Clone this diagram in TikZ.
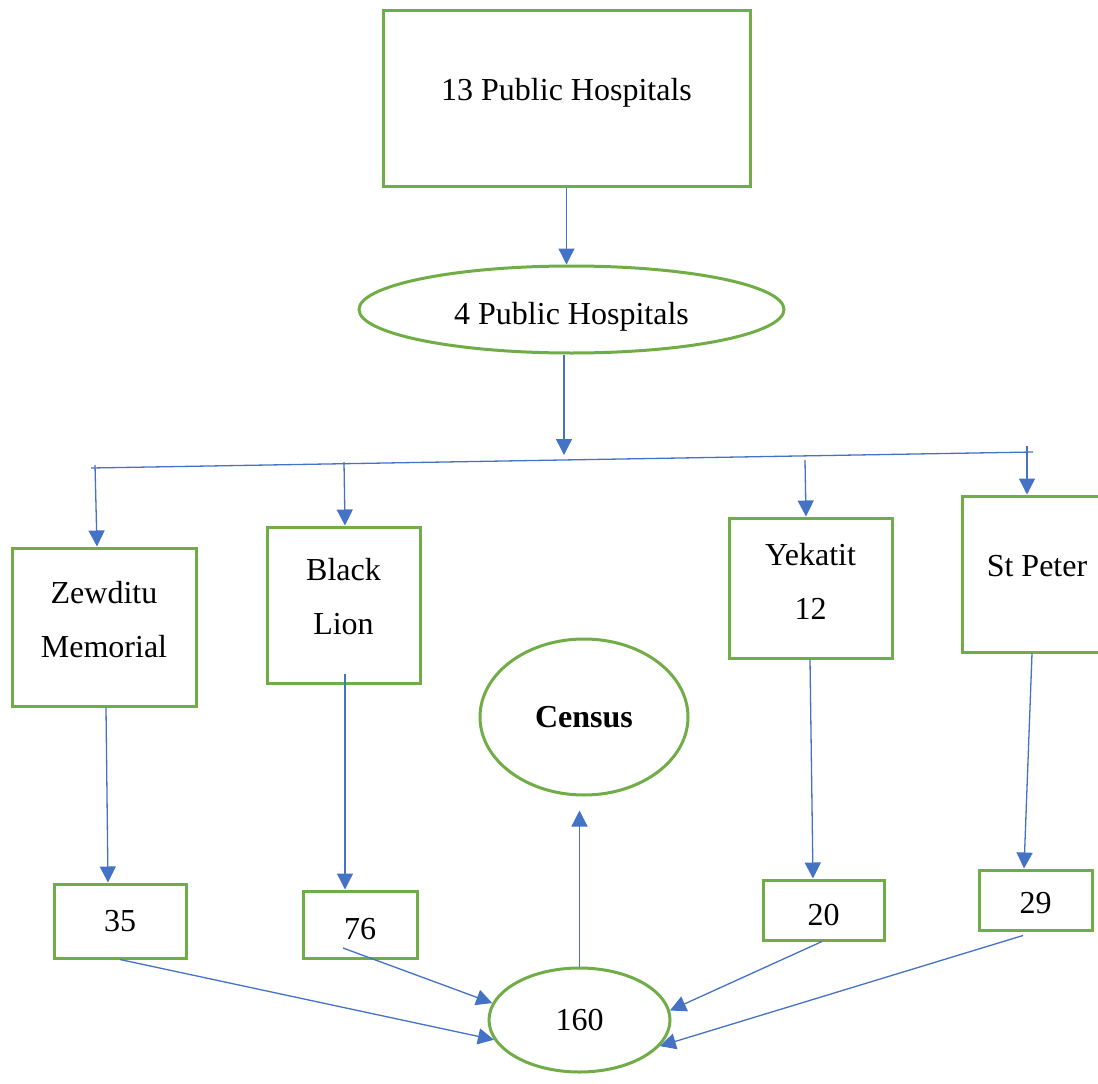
\documentclass[tikz,border=0pt]{standalone}
\usepackage{fontspec}
\setmainfont{Liberation Serif}
\usetikzlibrary{arrows.meta,shapes.geometric,calc}
\definecolor{grn}{RGB}{112,173,71}
\definecolor{blu}{RGB}{68,114,196}
\begin{document}
\begin{tikzpicture}[x=1pt,y=-1pt,
  gbox/.style={draw=grn, line width=3pt, rectangle, inner sep=0pt, align=center,
    font=\fontsize{32}{54}\selectfont},
  gell/.style={draw=grn, line width=3pt, ellipse, inner sep=0pt, align=center,
    font=\fontsize{32}{54}\selectfont},
  wire/.style={draw=blu, line width=1.3pt},
  conn/.style={draw=blu, line width=1.3pt, -{Triangle[length=16pt,width=16pt]}}]
\useasboundingbox (0,0) rectangle (1098,1084);
\fill[white] (0,0) rectangle (1098,1084);
\begin{scope}
\clip (0,0) rectangle (1098,1084);
% nodes
\node[gbox, minimum width=367pt, minimum height=176pt, text depth=17pt] (top) at (566.5,98) {13 Public Hospitals};
\node[gell, minimum width=425pt, minimum height=87pt, text height=36pt] (e4) at (571.5,309.5) {4 Public Hospitals};
\node[gbox, minimum width=184pt, minimum height=158pt, text depth=16pt] (zew) at (104,627) {Zewditu\\Memorial};
\node[gbox, minimum width=153pt, minimum height=156pt, text depth=18pt] (bl) at (343.5,605) {Black\\Lion};
\node[gbox, minimum width=163pt, minimum height=140pt, text depth=14pt] (yk) at (810.5,588) {Yekatit\\12};
\node[gbox, minimum width=150pt, minimum height=156pt, text depth=16pt] (sp) at (1037,574) {St Peter};
\node[gell, minimum width=208pt, minimum height=156pt] (census) at (584,717) {\bfseries Census};
\node[gbox, minimum width=132pt, minimum height=74pt] (n35) at (120,921) {35};
\node[gbox, minimum width=114pt, minimum height=67pt, text height=30pt] (n76) at (360,924.5) {76};
\node[gbox, minimum width=121pt, minimum height=60pt, text height=32pt] (n20) at (823.5,910) {20};
\node[gbox, minimum width=113pt, minimum height=60pt, text height=28pt] (n29) at (1035.5,900) {29};
\node[gell, minimum width=181pt, minimum height=104pt] (n160) at (579.5,1020) {160};
% bus
\coordinate (busarrow) at (564,455);
\coordinate (busL) at (91,468);
\coordinate (busR) at (1033,452);
\coordinate (dZ) at (95,465);
\coordinate (dB) at (344,462);
\coordinate (dY) at (805,460);
\coordinate (dS) at (1027,446);
% connectors
\draw[conn] (top.south) -- (top.south |- e4.north);
\draw[conn] (busarrow |- e4.south) -- (busarrow);
\draw[wire] (busL) -- (busR);
\draw[conn] (dZ) -- ($(zew.north)+(-7,0)$);
\draw[conn] (dB) -- ($(bl.north)+(1.5,0)$);
\draw[conn] (dY) -- ($(yk.north)+(-4.5,0)$);
\draw[conn] (dS) -- ($(sp.north)+(-10,0)$);
\draw[conn] ($(zew.south)+(2,0)$) -- ($(n35.north)+(-12,0)$);
\draw[conn] ($(bl.south)+(1.5,-11)$) -- ($(n76.north)+(-15,0)$);
\draw[conn] ($(yk.south)+(-0.5,0)$) -- ($(n20.north)+(-10.5,0)$);
\draw[conn] ($(sp.south)+(-5,0)$) -- ($(n29.north)+(-11.5,0)$);
\draw[conn] (n35.south) -- (n160.193);
\draw[conn] ($(n76.center)+(-17,23.5)$) -- (n160.169);
\draw[conn] ($(n20.south)+(-1.5,0)$) -- (n160.6);
\draw[conn] ($(n29.south)+(-12.5,4)$) -- (n160.342);
\draw[conn] (n160.north) -- ($(n160.north |- census.south)+(0,14)$);
\end{scope}
\end{tikzpicture}
\end{document}
